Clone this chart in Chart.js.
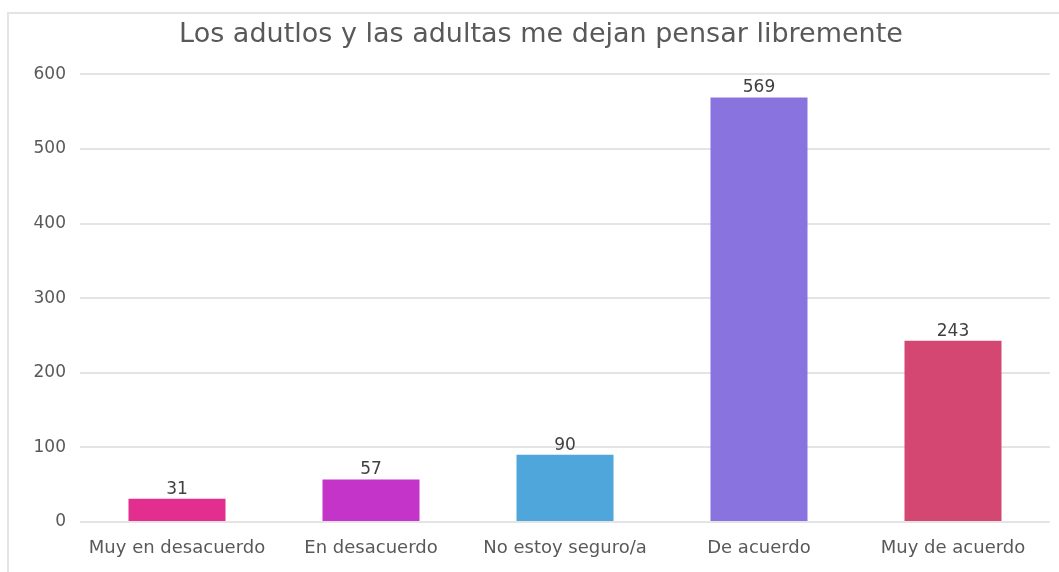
<!DOCTYPE html>
<html>
<head>
<meta charset="utf-8">
<script src="https://cdn.jsdelivr.net/npm/chart.js@4"></script>
<style>
  html, body { margin: 0; padding: 0; background: #fff; }
  #wrap { width: 1059px; height: 572px; position: relative; }
</style>
</head>
<body>
<div id="wrap"><canvas id="chart"></canvas></div>
<script>
// ======================================
// Datos
// ======================================
const chartTitle = 'Los adutlos y las adultas me dejan pensar libremente';
const categories = ['Muy en desacuerdo', 'En desacuerdo', 'No estoy seguro/a', 'De acuerdo', 'Muy de acuerdo'];
const values = [31, 57, 90, 569, 243];
const barColors = ['#E22E8E', '#C534C9', '#4FA6DB', '#8973DF', '#D44772'];
const yTicks = [0, 100, 200, 300, 400, 500, 600];

// marco gris del recuadro
const framePlugin = {
  id: 'frame',
  beforeDraw(chart) {
    const ctx = chart.ctx;
    ctx.save();
    ctx.strokeStyle = '#e4e4e4';
    ctx.lineWidth = 2;
    ctx.beginPath();
    ctx.moveTo(8, chart.height + 2);
    ctx.lineTo(8, 13);
    ctx.lineTo(chart.width + 2, 13);
    ctx.stroke();
    ctx.restore();
  }
};

// etiquetas de valor encima de cada barra
const valueLabels = {
  id: 'valueLabels',
  afterDatasetsDraw(chart) {
    const ctx = chart.ctx;
    const meta = chart.getDatasetMeta(0);
    ctx.save();
    ctx.font = '17px "DejaVu Sans", sans-serif';
    ctx.fillStyle = '#404040';
    ctx.textAlign = 'center';
    ctx.textBaseline = 'bottom';
    meta.data.forEach((bar, i) => {
      ctx.fillText(values[i], bar.x, bar.y - 1);
    });
    ctx.restore();
  }
};

new Chart(document.getElementById('chart'), {
  type: 'bar',
  data: {
    labels: categories,
    datasets: [{
      data: values,
      backgroundColor: barColors,
      borderWidth: 0,
      categoryPercentage: 1,
      barPercentage: 0.5
    }]
  },
  options: {
    responsive: true,
    maintainAspectRatio: false,
    animation: false,
    layout: { padding: { left: 32, right: 9, top: 14, bottom: 10 } },
    plugins: {
      legend: { display: false },
      tooltip: { enabled: false },
      title: {
        display: true,
        text: chartTitle,
        color: '#595959',
        font: { family: '"DejaVu Sans", sans-serif', size: 27, weight: 'normal' },
        padding: { top: 5, bottom: 23 }
      }
    },
    scales: {
      x: {
        grid: { display: false },
        border: { display: false },
        ticks: {
          color: '#595959',
          font: { family: '"DejaVu Sans", sans-serif', size: 18 },
          padding: 8,
          maxRotation: 0
        },
        afterFit(scale) { scale.height = 40; }
      },
      y: {
        min: 0,
        max: 600,
        afterBuildTicks(scale) { scale.ticks = yTicks.map(v => ({ value: v })); },
        grid: { color: '#e4e4e4', lineWidth: 2, drawTicks: false },
        border: { display: false },
        ticks: {
          color: '#595959',
          font: { family: '"DejaVu Sans", sans-serif', size: 17 },
          padding: 14
        },
        afterFit(scale) { scale.width = 48; }
      }
    }
  },
  plugins: [framePlugin, valueLabels]
});
</script>
</body>
</html>
